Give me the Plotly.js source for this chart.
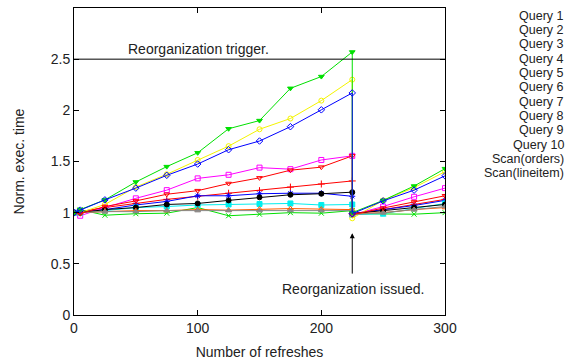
<!DOCTYPE html>
<html>
<head>
<meta charset="utf-8">
<script src="https://cdn.plot.ly/plotly-3.0.1.min.js"></script>
<style>html,body{margin:0;padding:0;background:#fff}#chart{width:567px;height:364px}</style>
</head>
<body>
<div id="chart"></div>
<script>
const refreshes = [0, 5, 25, 50, 75, 100, 125, 150, 175, 200, 225, 225, 250, 275, 300];
const seriesNames = ["Query 1","Query 2","Query 3","Query 4","Query 5","Query 6","Query 7","Query 8","Query 9","Query 10","Scan(orders)","Scan(lineitem)"];
const q1  = [1.0, 1.01, 1.05, 1.09, 1.13, 1.16, 1.19, 1.215, 1.25, 1.28, 1.31, 0.99, 1.03, 1.08, 1.13];
const q2  = [1.0, 1.03, 0.975, 0.99, 0.995, 1.05, 0.97, 0.985, 1.0, 0.995, 1.02, 0.99, 0.99, 0.985, 1.0];
const q3  = [1.0, 1.01, 1.03, 1.075, 1.11, 1.165, 1.165, 1.185, 1.19, 1.19, 1.16, 0.99, 1.03, 1.07, 1.12];
const q4  = [1.0, 0.97, 1.05, 1.14, 1.22, 1.335, 1.37, 1.44, 1.425, 1.515, 1.555, 0.98, 1.06, 1.155, 1.24];
const q5  = [1.0, 1.0, 1.02, 1.05, 1.06, 1.075, 1.08, 1.085, 1.09, 1.075, 1.08, 0.98, 0.99, 1.04, 1.09];
const q6  = [1.0, 1.0, 1.08, 1.25, 1.375, 1.515, 1.65, 1.815, 1.92, 2.095, 2.30, 0.945, 1.12, 1.245, 1.40];
const q7  = [1.0, 1.0, 1.03, 1.05, 1.08, 1.09, 1.12, 1.15, 1.175, 1.185, 1.20, 0.99, 1.02, 1.05, 1.08];
const q8  = [1.0, 1.0, 1.01, 1.02, 1.02, 1.03, 1.025, 1.035, 1.04, 1.035, 1.03, 0.99, 1.0, 1.03, 1.05];
const q9  = [1.0, 1.0, 1.01, 1.01, 1.02, 1.02, 1.02, 1.02, 1.02, 1.02, 1.02, 0.98, 1.0, 1.03, 1.06];
const q10 = [1.0, 0.99, 1.06, 1.115, 1.18, 1.215, 1.285, 1.34, 1.415, 1.445, 1.555, 0.98, 1.045, 1.105, 1.165];
const scanOrders   = [1.0, 1.03, 1.125, 1.30, 1.45, 1.585, 1.82, 1.90, 2.215, 2.33, 2.57, 1.0, 1.12, 1.26, 1.43];
const scanLineitem = [1.0, 1.025, 1.125, 1.24, 1.365, 1.475, 1.615, 1.70, 1.84, 2.005, 2.17, 0.99, 1.115, 1.22, 1.36];
const xTicks = [0, 100, 200, 300];
const yTicks = [0, 0.5, 1, 1.5, 2, 2.5, 3];
const triggerLevel = 2.5;

const allValues = [q1,q2,q3,q4,q5,q6,q7,q8,q9,q10,scanOrders,scanLineitem];
const colors = ["#ff0000","#00e000","#0000ff","#ff00ff","#00eeee","#f4f400","#000000","#ff5a00","#888888","#ff0000","#00e000","#0000ff"];
const symbols = ["cross-thin-open","x-thin-open","asterisk-open","square-open","square","circle-open","circle","triangle-up-open","triangle-up","triangle-down-open","triangle-down","diamond-open"];

const traces = allValues.map((vals, i) => ({
  x: refreshes, y: vals, name: seriesNames[i], type: "scatter", mode: "lines+markers",
  line: {color: colors[i], width: 1},
  marker: {symbol: symbols[i], color: colors[i], size: 5, line: {color: colors[i], width: 1}},
  showlegend: false, hoverinfo: "skip"
}));

const font = {family: "Liberation Sans, Arial, sans-serif", size: 14, color: "#222"};
const legendFont = {family: "Liberation Sans, Arial, sans-serif", size: 12.5, color: "#222"};
const L = 74, R = 445, T = 8, B = 315;
const annotations = seriesNames.map((n, i) => ({
  xref: "paper", yref: "paper",
  x: (566 - L) / (R - L), y: (B - (15.5 + i * 14.36)) / (B - T),
  xanchor: "right", yanchor: "middle", text: n, showarrow: false, font: legendFont
}));
annotations.push({xref: "x", yref: "y", x: 100.3, y: 2.60, text: "Reorganization trigger.", showarrow: false, font: font, xanchor: "center", yanchor: "middle"});
annotations.push({xref: "x", yref: "y", x: 225.5, y: 0.254, text: "Reorganization issued.", showarrow: false, font: font, xanchor: "center", yanchor: "middle"});
annotations.push({xref: "x", yref: "y", x: 225, y: 0.80, axref: "x", ayref: "y", ax: 225, ay: 0.39, text: "", showarrow: true, arrowhead: 2, arrowsize: 1, arrowwidth: 1, arrowcolor: "#000"});

const axisCommon = {showgrid: false, zeroline: false, showline: true, linecolor: "#000", linewidth: 1, mirror: "ticks", ticks: "inside", ticklen: 5, tickcolor: "#000", tickfont: font};

const layout = {
  width: 567, height: 364,
  margin: {l: L, r: 567 - R, t: T, b: 364 - B},
  paper_bgcolor: "#fff", plot_bgcolor: "#fff",
  font: font,
  xaxis: Object.assign({}, axisCommon, {range: [0, 300], tickvals: xTicks, ticktext: xTicks.map(String), automargin: false, title: {text: "Number of refreshes", font: font, standoff: 12}}),
  yaxis: Object.assign({}, axisCommon, {range: [0, 3], tickvals: yTicks, ticktext: yTicks.map(String), automargin: false, title: {text: "Norm. exec. time", font: font, standoff: 22}}),
  shapes: [{type: "line", xref: "x", yref: "y", x0: 0, x1: 300, y0: triggerLevel, y1: triggerLevel, line: {color: "#000", width: 1}}],
  annotations: annotations
};

Plotly.newPlot("chart", traces, layout, {staticPlot: true, displayModeBar: false});
</script>
</body>
</html>
